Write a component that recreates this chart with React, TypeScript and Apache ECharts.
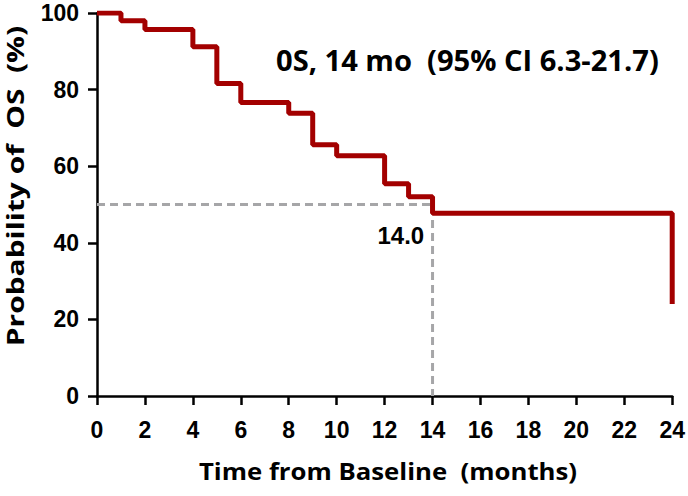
import React, { useEffect, useRef } from "react";
import * as echarts from "echarts";

const times = [0, 1, 2, 4, 5, 6, 8, 9, 10, 12, 13, 14, 24, 24];
const survival = [100, 98, 95.7, 91.2, 81.6, 76.6, 73.8, 65.6, 62.7, 55.4, 52.0, 47.7, 47.7, 24];
const medianX = [0, 14, 14];
const medianY = [50, 50, 0];
const medianLabel = "14.0";
const medianLabelPos = [13.65, 42];
const xTicks = [0, 2, 4, 6, 8, 10, 12, 14, 16, 18, 20, 22, 24];
const yTicks = [0, 20, 40, 60, 80, 100];
const annotation = "0S, 14 mo  (95% CI 6.3-21.7)";
const xTitle = "Time from Baseline  (months)";
const yTitle = "Probability of  OS  (%)";

export default function App() {
  const ref = useRef<HTMLDivElement>(null);
  useEffect(() => {
    if (!ref.current) return;
    const chart = echarts.init(ref.current, undefined, { renderer: "svg" });
    const labelStyle = {
      color: "#000",
      fontFamily: "Liberation Sans",
      fontWeight: "bold" as const,
      fontSize: 23,
    };
    const axisCommon = {
      type: "value" as const,
      axisLine: { show: true, lineStyle: { color: "#000", width: 2.5 } },
      axisTick: { show: true, length: 9, lineStyle: { color: "#000", width: 2.5 } },
      splitLine: { show: false },
    };
    chart.setOption({
      animation: false,
      grid: { left: 97, right: 15, top: 13, bottom: 100, containLabel: false },
      xAxis: {
        ...axisCommon,
        min: xTicks[0],
        max: xTicks[xTicks.length - 1],
        interval: 2,
        axisLabel: { ...labelStyle, margin: 22 },
      },
      yAxis: {
        ...axisCommon,
        min: yTicks[0],
        max: yTicks[yTicks.length - 1],
        interval: 20,
        axisLabel: { ...labelStyle, margin: 18 },
      },
      graphic: [
        {
          type: "text",
          x: 15,
          y: 186,
          rotation: Math.PI / 2,
          scaleX: 1.3,
          style: {
            text: yTitle,
            fill: "#000",
            font: "bold 23px 'Open Sans'",
            align: "center",
            verticalAlign: "middle",
          },
        },
        {
          type: "text",
          x: 388,
          y: 471,
          scaleX: 1.12,
          style: {
            text: xTitle,
            fill: "#000",
            font: "bold 23px 'Open Sans'",
            align: "center",
            verticalAlign: "middle",
          },
        },
        {
          type: "text",
          x: 276,
          y: 60,
          scaleX: 1.04,
          style: {
            text: annotation,
            fill: "#000",
            font: "bold 28px 'Open Sans'",
            align: "left",
            verticalAlign: "middle",
          },
        },
      ],
      series: [
        {
          type: "line",
          data: medianX.map((x, i) => [x, medianY[i]]),
          symbol: "none",
          lineStyle: { color: "#a6a6a8", width: 3, type: [8, 5] },
          z: 1,
        },
        {
          type: "line",
          step: "end",
          data: times.map((t, i) => [t, survival[i]]),
          symbol: "none",
          lineStyle: { color: "#a30000", width: 5 },
          z: 3,
        },
        {
          type: "scatter",
          data: [medianLabelPos],
          symbolSize: 0,
          silent: true,
          itemStyle: { opacity: 1 },
          label: {
            show: true,
            position: "left",
            distance: 0,
            formatter: medianLabel,
            textBorderWidth: 0,
            ...labelStyle,
            fontSize: 24,
          },
          z: 4,
        },
      ],
    });
    return () => chart.dispose();
  }, []);
  return (
    <div
      ref={ref}
      style={{ position: "fixed", left: 0, top: 0, width: 688, height: 496, background: "#fff" }}
    />
  );
}
